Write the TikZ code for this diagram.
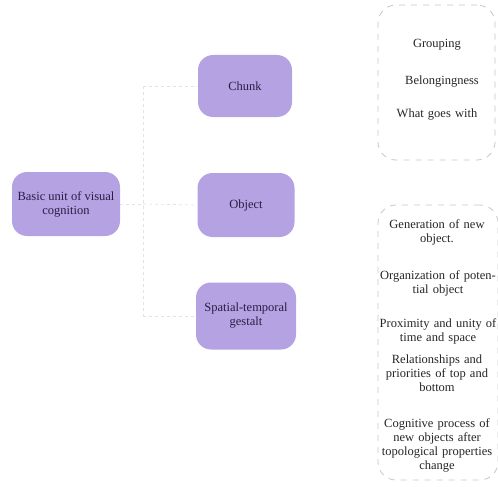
\documentclass[tikz,border=0pt]{standalone}
\usepackage{fontspec}
\setmainfont{Liberation Serif}
\begin{document}
\begin{tikzpicture}[x=1pt,y=-1pt,
  every node/.style={font=\fontsize{12.5}{14}\selectfont},
  concept/.style={draw=none, fill=lavender, rounded corners=15pt, align=center,
    text=inkdark, inner sep=2pt},
  note/.style={draw=gray!45, dashed, dash pattern=on 6pt off 6pt, rounded corners=18pt, line width=0.8pt},
  notetext/.style={align=center, text=black!85, text width=130pt, inner sep=0pt},
  link/.style={draw=gray!22, dashed, line width=0.7pt}]
\definecolor{lavender}{RGB}{181,162,226}
\definecolor{inkdark}{RGB}{40,30,70}
\useasboundingbox (0,0) rectangle (498,487);

% main concepts
\node[concept, minimum width=108pt, minimum height=64pt] (root) at (66,204)
  {Basic unit of visual\\cognition};
\node[concept, minimum width=94pt, minimum height=62pt] (chunk) at (245,86) {Chunk};
\node[concept, minimum width=97pt, minimum height=64pt] (object) at (246,205) {Object};
\node[concept, minimum width=100pt, minimum height=67pt] (gestalt) at (246,316)
  {Spatial-temporal\\gestalt};

% tree connectors
\coordinate (fork) at (143,204);
\coordinate (forkT) at (143,86);
\coordinate (forkB) at (143,316);
\draw[link] (root.east) -- (fork);
\draw[link] (forkT) -- (forkB);
\draw[link] (forkT) -- (chunk.west);
\draw[link] (fork) -- (object.west);
\draw[link] (forkB) -- (gestalt.west);

% annotation panels
\node[note, minimum width=117pt, minimum height=155pt] (boxA) at (436.5,82.5) {};
\node[note, minimum width=120pt, minimum height=275pt] (boxB) at (438,342.5) {};

\node[notetext] (a1) at (437,45) {Grouping};
\node[notetext] (a2) at (442,82) {Belongingness};
\node[notetext] (a3) at (437,115) {What goes with};

\node[notetext] (b1) at (437,232) {Generation of new\\object.};
\node[notetext] (b2) at (438,283) {Organization of poten-\\tial object};
\node[notetext] (b3) at (438,331) {Proximity and unity of\\time and space};
\node[notetext] (b4) at (437,373) {Relationships and\\priorities of top and\\bottom};
\node[notetext] (b5) at (437,445) {Cognitive process of\\new objects after\\topological properties\\change};
\end{tikzpicture}
\end{document}
